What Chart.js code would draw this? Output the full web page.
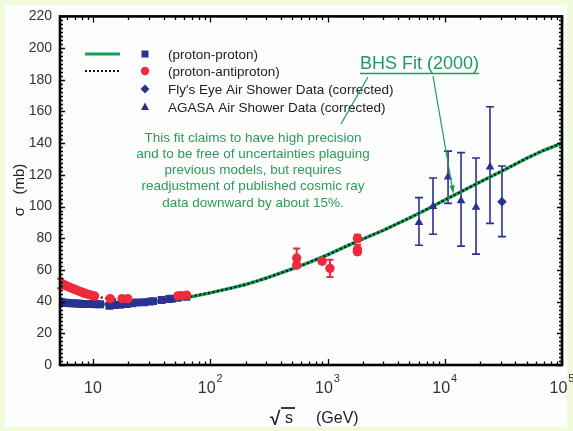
<!DOCTYPE html>
<html><head><meta charset="utf-8">
<script src="https://cdn.jsdelivr.net/npm/chart.js@4/dist/chart.umd.min.js"></script>
<style>html,body{margin:0;padding:0;background:#effbdb;}#wrap{width:573px;height:431px;}</style>
</head><body><div id="wrap"><canvas id="c" width="573" height="431"></canvas></div>
<script>
// ---- data ----
const fitEnergy = [9,10,12,15,20,30,50,70,100,150,200,300,500,700,1000,1500,2000,3000,5000,7000,10000,15000,20000,30000,50000,70000,100000];
const fitPP     = [38.7,38.5,38.3,38.3,38.6,39.5,41.5,43.2,45.5,48.5,50.8,54.8,60.6,64.8,69.5,75.5,79.5,85.0,92.8,98.2,104.2,110.8,115.5,122.0,130.5,135.5,140.0];
const fitPbarP  = [44.8,43.8,42.5,41.4,40.9,40.7,41.9,43.4,45.6,48.5,50.8,54.8,60.6,64.8,69.5,75.5,79.5,85.0,92.8,98.2,104.2,110.8,115.5,122.0,130.5,135.5,140.0];

const ppEnergy = [5.3,5.5,5.8,6.1,6.5,6.9,7.3,7.8,8.3,8.8,9.4,10.0,10.7,11.5,13.8,15.2,16.9,19.4,21.5,23.7,27.4,30.6,32.5,38.5,44.7,47.2,52.8,62.5];
const ppSigma  = [39.6,39.4,39.3,39.1,39.0,38.9,38.8,38.7,38.6,38.5,38.4,38.4,38.3,38.3,37.4,37.9,38.0,38.4,38.9,39.4,39.6,40.0,40.3,41.0,41.6,41.9,42.4,43.0];

const pbarEnergy = [5.3,5.5,5.75,6.0,6.3,6.6,6.9,7.2,7.6,8.0,8.4,8.8,9.3,9.8,10.3,14.0,17.7,19.8,53,57,63,546,546,900,1050,1800,1800,1800];
const pbarSigma  = [51.5,51.0,50.4,49.8,49.1,48.5,47.9,47.3,46.6,46.0,45.4,44.9,44.4,43.9,43.5,41.9,41.9,41.8,43.6,43.8,44.0,67.5,63.0,65.5,61.0,80.0,72.8,71.5];
const pbarErr    = [3,0,0,0,0,0,0,0,0,0,0,0,0,0,0,0,0,0,0,0,0,6,1.5,1.5,5.5,2.2,3.1,1.5];

const agasaEnergy = [6030,7940,10670,13770,18490,24320];
const agasaSigma  = [90,100,118.7,103.7,99.6,125];
const agasaLow    = [75.6,82.5,102,75,70,89.4];
const agasaHigh   = [105.6,118,135,134,130.6,163];

const flyEnergy = [30760];
const flySigma  = [103];
const flyLow    = [81];
const flyHigh   = [125.6];

const yTicks = [0,20,40,60,80,100,120,140,160,180,200,220];
const xDecades = [1,2,3,4,5];

const legendLabels = ["(proton-proton)","(proton-antiproton)","Fly's Eye Air Shower Data (corrected)","AGASA Air Shower Data (corrected)"];
const noteLines = ["This fit claims to have high precision","and to be free of uncertainties plaguing","previous models, but requires","readjustment of published cosmic ray","data downward by about 15%."];
const fitTitle = "BHS Fit (2000)";

// ---- styles ----
const NAVY = '#2b3190', RED = '#ee2a3c', GREEN = '#13a15a', TXTGREEN = '#2e9a58';
const FONT = '"Liberation Sans", Arial, Helvetica, sans-serif';

const pts = (xs, ys) => xs.map((x, i) => ({x, y: ys[i]}));

const deco = {
  id: 'deco',
  beforeDraw(chart) {
    const c = chart.ctx;
    c.save();
    c.fillStyle = '#effbdb'; c.fillRect(0, 0, 573, 431);
    c.fillStyle = '#fcfdfc'; c.fillRect(5, 5, 562, 422);
    c.restore();
  },
  beforeDatasetsDraw(chart) {
    const c = chart.ctx, xs = chart.scales.x, ys = chart.scales.y;
    c.save();
    const bar = (e, lo, hi, cap, col, lw) => {
      const x = xs.getPixelForValue(e), y1 = ys.getPixelForValue(lo), y2 = ys.getPixelForValue(hi);
      c.strokeStyle = col; c.lineWidth = lw;
      c.beginPath(); c.moveTo(x, y1); c.lineTo(x, y2);
      c.moveTo(x - cap, y1); c.lineTo(x + cap, y1);
      c.moveTo(x - cap, y2); c.lineTo(x + cap, y2); c.stroke();
    };
    agasaEnergy.forEach((e, i) => bar(e, agasaLow[i], agasaHigh[i], 4, NAVY, 1.6));
    flyEnergy.forEach((e, i) => bar(e, flyLow[i], flyHigh[i], 4, NAVY, 1.6));
    pbarEnergy.forEach((e, i) => { if (pbarErr[i] > 0) bar(e, pbarSigma[i] - pbarErr[i], pbarSigma[i] + pbarErr[i], 3.5, RED, 2); });
    c.restore();
  },
  afterDraw(chart) {
    const c = chart.ctx, xs = chart.scales.x, ys = chart.scales.y, a = chart.chartArea;
    c.save();
    // ticks (inward)
    c.strokeStyle = '#000'; c.lineWidth = 1.3;
    c.beginPath();
    for (let v = 0; v <= 220; v += 2.5) {
      const y = Math.round(ys.getPixelForValue(v)) + 0.5;
      const len = (v % 20 === 0) ? 5 : 3;
      c.moveTo(a.left, y); c.lineTo(a.left + len, y);
      c.moveTo(a.right, y); c.lineTo(a.right - len, y);
    }
    for (let d = 0; d <= 5; d++) {
      for (let m = 1; m <= 9; m++) {
        const v = m * Math.pow(10, d);
        if (v < xs.min || v > xs.max) continue;
        const x = Math.round(xs.getPixelForValue(v)) + 0.5;
        const len = m === 1 ? 6 : 3.5;
        c.moveTo(x, a.bottom); c.lineTo(x, a.bottom - len);
        c.moveTo(x, a.top); c.lineTo(x, a.top + len);
      }
    }
    c.stroke();
    // frame
    c.lineWidth = 2.6; c.strokeStyle = '#000';
    c.strokeRect(a.left, a.top, a.right - a.left, a.bottom - a.top);

    // x tick labels
    c.fillStyle = '#333'; c.textBaseline = 'middle';
    xDecades.forEach(d => {
      const x = xs.getPixelForValue(Math.pow(10, d));
      c.font = '16px ' + FONT;
      const w1 = c.measureText('10').width;
      let w2 = 0; const ex = d === 1 ? '' : String(d);
      if (ex) { c.font = '11px ' + FONT; w2 = c.measureText(ex).width + 1; }
      const s = x - (w1 + w2) / 2;
      c.font = '16px ' + FONT; c.textAlign = 'left';
      c.fillText('10', s, 389);
      if (ex) { c.font = '11px ' + FONT; c.fillText(ex, s + w1 + 1, 379); }
    });

    // x title: radical s (GeV)
    c.fillStyle = '#222';
    c.font = 'bold 19px ' + FONT; c.textAlign = 'left'; c.textBaseline = 'alphabetic';
    c.fillText('\u221A', 270, 425);
    c.font = '16px ' + FONT;
    c.fillText('s', 285, 423);
    c.lineWidth = 1.8; c.strokeStyle = '#222';
    c.beginPath(); c.moveTo(281, 408); c.lineTo(295, 408); c.stroke();
    c.fillText('(GeV)', 316, 423);

    // y title
    c.save();
    c.translate(20, 190); c.rotate(-Math.PI / 2);
    c.font = '15px ' + FONT; c.textAlign = 'center'; c.textBaseline = 'middle';
    c.fillStyle = '#222';
    c.fillText('\u03C3   (mb)', 0, 0);
    c.restore();

    // legend
    const lx1 = 85, lx2 = 120, mx = 145, tx = 168;
    const rows = [54, 71, 89, 107];
    c.lineWidth = 3; c.strokeStyle = GREEN; c.setLineDash([]);
    c.beginPath(); c.moveTo(lx1, rows[0]); c.lineTo(lx2, rows[0]); c.stroke();
    c.lineWidth = 2.2; c.strokeStyle = '#111'; c.setLineDash([2, 2]);
    c.beginPath(); c.moveTo(lx1, rows[1]); c.lineTo(lx2, rows[1]); c.stroke();
    c.setLineDash([]);
    c.fillStyle = NAVY; c.fillRect(mx - 3.5, rows[0] - 3.5, 7, 7);
    c.fillStyle = RED; c.beginPath(); c.arc(mx, rows[1], 4.2, 0, Math.PI * 2); c.fill();
    c.fillStyle = NAVY; c.beginPath();
    c.moveTo(mx, rows[2] - 4.5); c.lineTo(mx + 4.5, rows[2]); c.lineTo(mx, rows[2] + 4.5); c.lineTo(mx - 4.5, rows[2]); c.closePath(); c.fill();
    c.beginPath(); c.moveTo(mx, rows[3] - 4.5); c.lineTo(mx + 4, rows[3] + 3); c.lineTo(mx - 4, rows[3] + 3); c.closePath(); c.fill();
    c.fillStyle = '#222'; c.font = '13.5px ' + FONT; c.textAlign = 'left'; c.textBaseline = 'middle';
    legendLabels.forEach((t, i) => c.fillText(t, tx, rows[i] + 1));

    // annotation
    c.fillStyle = TXTGREEN; c.font = '13.5px ' + FONT; c.textAlign = 'center';
    noteLines.forEach((t, i) => c.fillText(t, 253, 138 + i * 16.2));
    c.fillStyle = '#1e9a62'; c.font = '18px ' + FONT; c.textAlign = 'left';
    c.fillText(fitTitle, 360, 64);
    const tw = c.measureText(fitTitle).width;
    c.strokeStyle = '#1e9a62'; c.lineWidth = 1.3;
    c.beginPath(); c.moveTo(360, 73.5); c.lineTo(360 + tw, 73.5); c.stroke();
    c.lineWidth = 1.2;
    c.beginPath(); c.moveTo(368, 77); c.lineTo(341, 124); c.stroke();
    c.beginPath(); c.moveTo(433, 76); c.lineTo(452, 186); c.stroke();
    // arrow head
    const ang = Math.atan2(186 - 76, 452 - 433);
    const hx = 453.5, hy = 194;
    c.fillStyle = '#1e9a62'; c.beginPath();
    c.moveTo(hx, hy);
    c.lineTo(hx - 9 * Math.cos(ang - 0.3), hy - 9 * Math.sin(ang - 0.3));
    c.lineTo(hx - 9 * Math.cos(ang + 0.3), hy - 9 * Math.sin(ang + 0.3));
    c.closePath(); c.fill();
    c.restore();
  }
};

new Chart(document.getElementById('c'), {
  type: 'scatter',
  data: {
    datasets: [
      { label: 'pp', data: pts(ppEnergy, ppSigma), pointStyle: 'rect', pointRadius: 5.6, backgroundColor: NAVY, borderColor: NAVY, borderWidth: 0, order: 4 },
      { label: 'pbarp', data: pts(pbarEnergy, pbarSigma), pointStyle: 'circle', pointRadius: 4.7, backgroundColor: RED, borderColor: RED, borderWidth: 0, order: 3 },
      { label: 'fly', data: pts(flyEnergy, flySigma), pointStyle: 'rectRot', pointRadius: 4.8, backgroundColor: NAVY, borderColor: NAVY, borderWidth: 0, order: 2 },
      { label: 'agasa', data: pts(agasaEnergy, agasaSigma), pointStyle: 'triangle', pointRadius: 5, backgroundColor: NAVY, borderColor: NAVY, borderWidth: 0, order: 1 },
      { label: 'fit pbar', data: pts(fitEnergy, fitPbarP), showLine: true, pointRadius: 0, borderColor: '#111', borderWidth: 2.2, borderDash: [2, 2.5], order: 9 },
      { label: 'fit pp', data: pts(fitEnergy, fitPP), showLine: true, pointRadius: 0, borderColor: GREEN, borderWidth: 3.4, order: 10 }
    ]
  },
  options: {
    responsive: false, animation: false,
    layout: { padding: { left: 0, top: 14, right: 11, bottom: 0 } },
    plugins: { legend: { display: false }, tooltip: { enabled: false } },
    scales: {
      x: {
        type: 'logarithmic', min: 5.23, max: 100000,
        grid: { display: false }, border: { display: false },
        ticks: { display: false },
        afterFit(s) { s.height = 66; }
      },
      y: {
        min: 0, max: 220,
        grid: { display: false, drawTicks: false }, border: { display: false },
        ticks: { stepSize: 20, padding: 8, color: '#333', font: { family: FONT, size: 14 },
                 callback: (v) => yTicks.includes(v) ? String(v) : '' },
        afterFit(s) { s.width = 60; }
      }
    }
  },
  plugins: [deco]
});
</script></body></html>
